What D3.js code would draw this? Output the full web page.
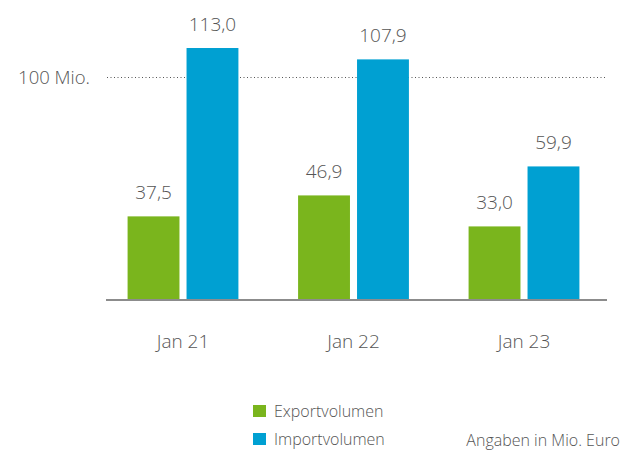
<!DOCTYPE html>
<html>
<head>
<meta charset="utf-8">
<script src="https://cdn.jsdelivr.net/npm/d3@7"></script>
<style>
  body { margin: 0; background: #fff; }
  text { font-family: "Open Sans", "Noto Sans", sans-serif; font-weight: 300; fill: #555; }
</style>
</head>
<body>
<div id="chart"></div>
<script>
// data
const months = ["Jan 21", "Jan 22", "Jan 23"];
const series = ["Exportvolumen", "Importvolumen"];
const exportVals = [37.5, 46.9, 33.0];
const importVals = [113.0, 107.9, 59.9];
const gridTicks = [100];
const colors = ["#7ab51d", "#00a0d2"];

const W = 633, H = 452;

const rows = months.map((m, i) => ({month: m, values: [exportVals[i], importVals[i]]}));

const svg = d3.select("#chart").append("svg")
  .attr("width", W)
  .attr("height", H);

// scales
const x0 = d3.scaleBand()
  .domain(months)
  .range([97.75, 609.25])
  .paddingInner(0.35)
  .paddingOuter(0.175);

const x1 = d3.scaleBand()
  .domain(series)
  .range([0, x0.bandwidth()])
  .paddingInner(0.12);

const y = d3.scaleLinear()
  .domain([0, 100])
  .range([300, 77]);

const color = d3.scaleOrdinal().domain(series).range(colors);
const fmt = v => d3.format(".1f")(v).replace(".", ",");

// dotted 100 Mio. line
const yAxis = svg.append("g")
  .attr("transform", "translate(107,0)")
  .call(d3.axisLeft(y).tickValues(gridTicks).tickSize(-500).tickPadding(17)
    .tickFormat(d => d + " Mio."));
yAxis.select(".domain").remove();
yAxis.selectAll(".tick line")
  .attr("stroke", "#555")
  .attr("stroke-dasharray", "1,2.5");
yAxis.selectAll(".tick text")
  .style("font-size", "18.5px")
  .attr("dy", "0.36em")
  .attr("fill", "#555");

// bars
const groups = svg.append("g")
  .selectAll("g")
  .data(rows)
  .join("g")
    .attr("transform", d => `translate(${x0(d.month)},0)`);

groups.selectAll("rect")
  .data(d => d.values.map((v, i) => ({key: series[i], value: v})))
  .join("rect")
    .attr("x", d => x1(d.key))
    .attr("y", d => y(d.value))
    .attr("width", x1.bandwidth())
    .attr("height", d => y(0) - y(d.value))
    .attr("fill", d => color(d.key));

groups.selectAll("text.val")
  .data(d => d.values.map((v, i) => ({key: series[i], value: v})))
  .join("text")
    .attr("class", "val")
    .attr("x", d => x1(d.key) + x1.bandwidth() / 2)
    .attr("y", d => y(d.value) - 17)
    .attr("text-anchor", "middle")
    .style("font-size", "19px")
    .text(d => fmt(d.value));

// baseline
svg.append("line")
  .attr("x1", 106).attr("x2", 607)
  .attr("y1", y(0)).attr("y2", y(0))
  .attr("stroke", "#8c8c8c")
  .attr("stroke-width", 2);

// x axis labels
const xAxis = svg.append("g")
  .attr("transform", `translate(0,${y(0)})`)
  .call(d3.axisBottom(x0).tickSize(0).tickPadding(35));
xAxis.select(".domain").remove();
xAxis.selectAll(".tick text")
  .style("font-size", "19px")
  .attr("fill", "#555");

// legend
const legend = svg.append("g")
  .selectAll("g")
  .data(series)
  .join("g")
    .attr("transform", (d, i) => `translate(253,${405 + i * 28})`);
legend.append("rect")
  .attr("width", 13).attr("height", 12)
  .attr("fill", d => color(d));
legend.append("text")
  .attr("x", 21).attr("y", 12)
  .style("font-size", "16px")
  .text(d => d);

svg.append("text")
  .attr("x", 620).attr("y", 446)
  .attr("text-anchor", "end")
  .style("font-size", "16px")
  .text("Angaben in Mio. Euro");
</script>
</body>
</html>
